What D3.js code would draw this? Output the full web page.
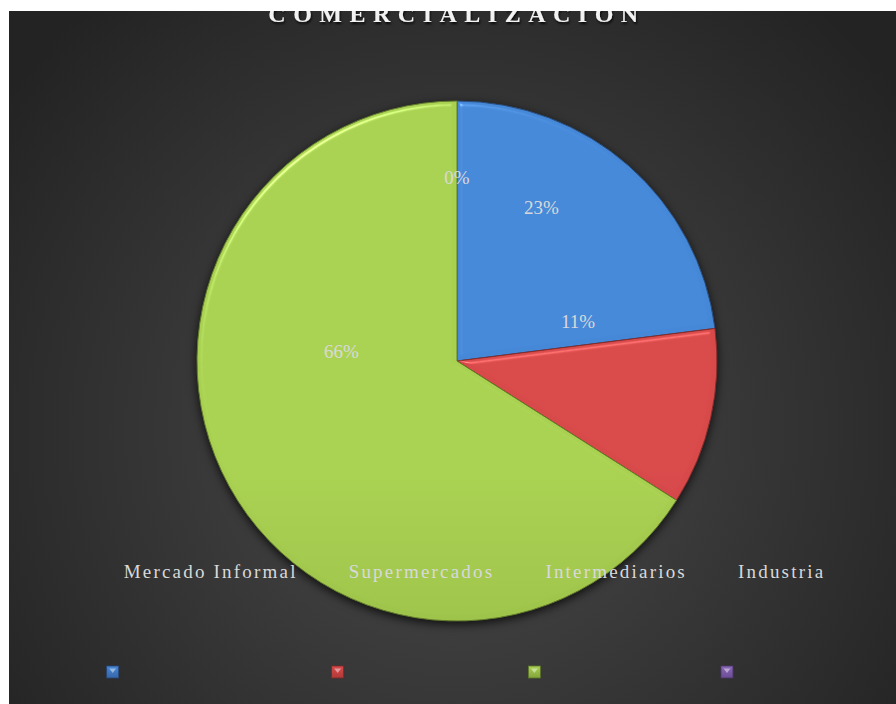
<!DOCTYPE html>
<html>
<head>
<meta charset="utf-8">
<script src="https://cdn.jsdelivr.net/npm/d3@7/dist/d3.min.js"></script>
<style>
  body { margin: 0; background: #fff; }
  svg { display: block; }
</style>
</head>
<body>
<div id="chart"></div>
<script>
var categories = ["Mercado Informal", "Supermercados", "Intermediarios", "Industria"];
var values = [23, 11, 66, 0];
var percentLabels = ["23%", "11%", "66%", "0%"];
var titleText = "COMERCIALIZACIÓN";

// slice colours: top / bottom of each gradient
var topColors = ["#4688d8", "#d8494a", "#a9d151", "#8a68b8"];
var bottomColors = ["#3766a8", "#b03a38", "#84a43b", "#6a4c94"];

// where Excel left the percent labels: angle (deg, clockwise from top) and fraction of radius
var labelAngle = [28.8, 71.7, 275, 0];
var labelRadius = [0.673, 0.49, 0.446, 0.708];

var width = 896, height = 704;
var cx = 457, cy = 361, r = 260;

var svg = d3.select("#chart").append("svg")
    .attr("width", width)
    .attr("height", height);

var defs = svg.append("defs");

var bg = defs.append("radialGradient")
    .attr("id", "bg")
    .attr("gradientUnits", "userSpaceOnUse")
    .attr("cx", 455).attr("cy", 430).attr("r", 560);
bg.append("stop").attr("offset", "0").attr("stop-color", "#4b4b4b");
bg.append("stop").attr("offset", "1").attr("stop-color", "#232323");

defs.append("clipPath").attr("id", "plotClip")
  .append("rect")
    .attr("x", 9).attr("y", 11)
    .attr("width", width - 9).attr("height", height - 11);

var shadow = defs.append("filter").attr("id", "shadow")
    .attr("color-interpolation-filters", "sRGB")
    .attr("x", "-20%").attr("y", "-20%").attr("width", "140%").attr("height", "140%");
shadow.append("feDropShadow")
    .attr("dx", 0).attr("dy", 3).attr("stdDeviation", 5)
    .attr("flood-color", "#000").attr("flood-opacity", 0.75);

var titleShadow = defs.append("filter").attr("id", "tshadow");
titleShadow.append("feDropShadow")
    .attr("dx", 1).attr("dy", 2).attr("stdDeviation", 1.2)
    .attr("flood-color", "#000").attr("flood-opacity", 0.8);

categories.forEach(function(c, i) {
    var g = defs.append("linearGradient")
        .attr("id", "slice" + i)
        .attr("gradientUnits", "userSpaceOnUse")
        .attr("x1", 0).attr("y1", cy - r)
        .attr("x2", 0).attr("y2", cy + r);
    g.append("stop").attr("offset", "0").attr("stop-color", topColors[i]);
    g.append("stop").attr("offset", "1").attr("stop-color", bottomColors[i]);

    var m = defs.append("linearGradient")
        .attr("id", "mark" + i)
        .attr("x1", 0).attr("y1", 0).attr("x2", 0).attr("y2", 1);
    m.append("stop").attr("offset", "0").attr("stop-color", topColors[i]);
    m.append("stop").attr("offset", "1").attr("stop-color", bottomColors[i]);
});

// soft bevel on the slices: highlight on lit edges only
var bevel = defs.append("filter").attr("id", "bevel")
    .attr("color-interpolation-filters", "sRGB");
bevel.append("feGaussianBlur").attr("in", "SourceAlpha").attr("stdDeviation", 2.5).attr("result", "blur");
var spec = bevel.append("feSpecularLighting")
    .attr("in", "blur").attr("surfaceScale", 5)
    .attr("specularConstant", 0.5).attr("specularExponent", 30)
    .attr("lighting-color", "#ffffff").attr("result", "spec");
spec.append("feDistantLight").attr("azimuth", 235).attr("elevation", 35);
bevel.append("feComposite").attr("in", "spec").attr("in2", "SourceAlpha")
    .attr("operator", "in").attr("result", "specOut");
bevel.append("feComposite").attr("in", "SourceGraphic").attr("in2", "specOut")
    .attr("operator", "arithmetic").attr("k1", 0).attr("k2", 1).attr("k3", 0.6).attr("k4", 0);

var plot = svg.append("g").attr("clip-path", "url(#plotClip)");

plot.append("rect")
    .attr("x", 9).attr("y", 11)
    .attr("width", width - 9).attr("height", height - 11)
    .attr("fill", "url(#bg)");

// title, partly hidden above the chart area
plot.append("text")
    .attr("x", 457)
    .attr("y", 22)
    .attr("text-anchor", "middle")
    .attr("font-family", "Liberation Serif, serif")
    .attr("font-weight", "bold")
    .attr("font-size", 24)
    .attr("letter-spacing", 7.5)
    .attr("fill", "#f2f2f2")
    .attr("filter", "url(#tshadow)")
    .text(titleText);

var pie = d3.pie().sort(null).value(function(d) { return d; });
var arcs = pie(values);
var arc = d3.arc().innerRadius(0).outerRadius(r);

var pieG = plot.append("g")
    .attr("transform", "translate(" + cx + "," + cy + ")")
    .attr("filter", "url(#shadow)");

pieG.selectAll("path")
    .data(arcs)
    .enter()
    .append("path")
    .attr("d", arc)
    .attr("fill", function(d, i) { return "url(#slice" + i + ")"; })
    .attr("stroke", function(d, i) { return d3.color(bottomColors[i]).darker(0.8); })
    .attr("stroke-width", 1)
    .attr("filter", "url(#bevel)");

var angleScale = d3.scaleLinear().domain([0, 360]).range([0, 2 * Math.PI]);
var radiusScale = d3.scaleLinear().domain([0, 1]).range([0, r]);

plot.append("g")
    .attr("transform", "translate(" + cx + "," + cy + ")")
    .selectAll("text")
    .data(percentLabels)
    .enter()
    .append("text")
    .attr("x", function(d, i) { return Math.sin(angleScale(labelAngle[i])) * radiusScale(labelRadius[i]); })
    .attr("y", function(d, i) { return -Math.cos(angleScale(labelAngle[i])) * radiusScale(labelRadius[i]); })
    .attr("dy", "0.35em")
    .attr("text-anchor", "middle")
    .attr("font-family", "Liberation Serif, serif")
    .attr("font-size", 19)
    .attr("fill", "#d9d9d9")
    .text(function(d) { return d; });

// legend: markers at the bottom, their texts drawn 100px higher as in the original
var legend = plot.append("g");
var items = legend.selectAll("g")
    .data(categories)
    .enter()
    .append("g");

items.append("text")
    .attr("y", 578)
    .attr("font-family", "Liberation Serif, serif")
    .attr("font-size", 19)
    .attr("letter-spacing", 2.2)
    .attr("fill", "#d9d9d9")
    .text(function(d) { return d; });

var markerSize = 12, textGap = 17, itemGap = 34;
var xPos = 0;
var starts = [];
items.each(function(d, i) {
    starts.push(xPos);
    var len = d3.select(this).select("text").node().getComputedTextLength();
    xPos += textGap + len + itemGap;
});
var totalW = xPos - itemGap;
var legendX = 466 - totalW / 2;

items.attr("transform", function(d, i) { return "translate(" + (legendX + starts[i]) + ",0)"; });
items.select("text").attr("x", textGap);

items.append("rect")
    .attr("x", 0).attr("y", 666)
    .attr("width", markerSize).attr("height", markerSize)
    .attr("fill", function(d, i) { return "url(#mark" + i + ")"; })
    .attr("stroke", function(d, i) { return d3.color(bottomColors[i]).darker(1); })
    .attr("stroke-width", 0.8);

items.append("path")
    .attr("d", "M2.5,668.5 L9.5,668.5 L6,673 Z")
    .attr("fill", "#ffffff")
    .attr("fill-opacity", 0.45);
</script>
</body>
</html>
